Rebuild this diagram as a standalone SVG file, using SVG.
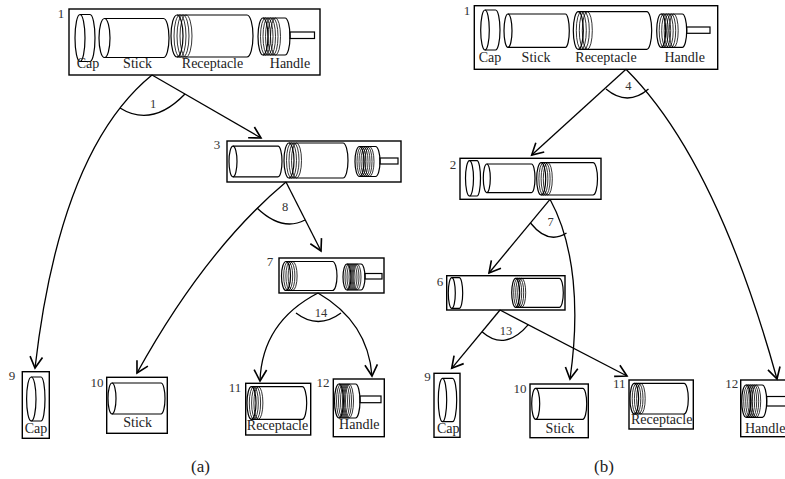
<svg xmlns="http://www.w3.org/2000/svg" width="785" height="479" viewBox="0 0 785 479">
<style>
.box{fill:none;stroke:#000;stroke-width:1.4}
.part ellipse,.part path,.part rect{fill:none;stroke:#000;stroke-width:1.2}
.part .th{stroke-width:0.8}
.edge{fill:none;stroke:#000;stroke-width:1.3}
.lbl{font-family:"Liberation Serif","Times New Roman",serif;font-size:14px;fill:#222;text-anchor:middle}
.num{font-family:"Liberation Serif","Times New Roman",serif;font-size:13px;fill:#333;text-anchor:middle}
.ang{font-family:"Liberation Serif","Times New Roman",serif;font-size:12.5px;fill:#333;text-anchor:middle}
.cap{font-family:"Liberation Serif","Times New Roman",serif;font-size:17px;fill:#222;text-anchor:middle}
</style>
<defs>
<marker id="ah" markerUnits="userSpaceOnUse" markerWidth="20" markerHeight="20" refX="0" refY="0" viewBox="-12 -8 14 16" orient="auto">
<path d="M-9,-5 L0,0 L-9,5" fill="none" stroke="#000" stroke-width="1.3"/>
</marker>
</defs>

<g id="connectors">
<!-- (a) -->
<path class="edge" d="M152,75 L261,138" marker-end="url(#ah)"/>
<path class="edge" d="M152,75 Q60,150 35,368" marker-end="url(#ah)"/>
<path class="edge" d="M120,108 Q152,128 185,94"/>
<path class="edge" d="M286,182 L321,251" marker-end="url(#ah)"/>
<path class="edge" d="M286,182 Q205,250 137,373" marker-end="url(#ah)"/>
<path class="edge" d="M257,208 Q282,232 305,220"/>
<path class="edge" d="M318,293 Q262,322 260,381" marker-end="url(#ah)"/>
<path class="edge" d="M318,293 Q368,322 372,376" marker-end="url(#ah)"/>
<path class="edge" d="M296,313 Q318,330 341,313"/>
<!-- (b) -->
<path class="edge" d="M626,69.3 L531.7,155" marker-end="url(#ah)"/>
<path class="edge" d="M626,69.3 Q716,159 777,379" marker-end="url(#ah)"/>
<path class="edge" d="M606,89 Q627.5,107 648.5,89"/>
<path class="edge" d="M550,199.3 L489,273" marker-end="url(#ah)"/>
<path class="edge" d="M550,199.3 C575,245 580,310 570,379" marker-end="url(#ah)"/>
<path class="edge" d="M530.5,223 Q548,245 566.5,233"/>
<path class="edge" d="M500,310 L451.7,368.3" marker-end="url(#ah)"/>
<path class="edge" d="M500,310 L627,376" marker-end="url(#ah)"/>
<path class="edge" d="M482,331.7 Q505,352 528.3,324.7"/>
</g>

<g id="angle-labels">
<text class="ang" x="153" y="108">1</text>
<text class="ang" x="285" y="211">8</text>
<text class="ang" x="321" y="317">14</text>
<text class="ang" x="628.3" y="89.5">4</text>
<text class="ang" x="550.7" y="226">7</text>
<text class="ang" x="506" y="334.5">13</text>
</g>

<!-- ===== (a) ===== -->
<g id="a-node1">
<rect class="box" x="69" y="9" width="251" height="66"/>
<text class="num" x="61" y="18">1</text>
<g class="part">
<ellipse cx="80" cy="38" rx="5" ry="23.5"/><path d="M80,14.5 H90 A5,23.5 0 0 1 90,61.5 H80"/>
<ellipse cx="104.5" cy="38" rx="5.5" ry="19.5"/><path d="M104.5,18.5 H163.5 A5.5,19.5 0 0 1 163.5,57.5 H104.5"/>
<ellipse cx="177" cy="36" rx="6" ry="21"/><path d="M177,15 H247 A6,21 0 0 1 247,57 H177"/>
<ellipse class="th" cx="180" cy="36" rx="6" ry="21"/><ellipse class="th" cx="183" cy="36" rx="6" ry="21"/><ellipse class="th" cx="186" cy="36" rx="6" ry="21"/>
<ellipse cx="263" cy="36.5" rx="5" ry="18.5"/><path d="M263,18 H285 A5,18.5 0 0 1 285,55 H263"/>
<ellipse class="th" cx="265.5" cy="36.5" rx="5" ry="18.5"/><ellipse class="th" cx="268" cy="36.5" rx="5" ry="18.5"/><ellipse class="th" cx="270.5" cy="36.5" rx="5" ry="18.5"/><ellipse class="th" cx="273" cy="36.5" rx="5" ry="18.5"/><ellipse class="th" cx="275.5" cy="36.5" rx="5" ry="18.5"/>
<rect x="290" y="32" width="24.5" height="6.5"/>
</g>
<text class="lbl" x="88" y="68">Cap</text>
<text class="lbl" x="137.5" y="68">Stick</text>
<text class="lbl" x="212.5" y="68">Receptacle</text>
<text class="lbl" x="290" y="68">Handle</text>
</g>

<g id="a-node3">
<rect class="box" x="227" y="141" width="174" height="41"/>
<text class="num" x="217" y="149">3</text>
<g class="part">
<ellipse cx="233" cy="161.5" rx="4" ry="15.3"/><path d="M233,146.2 H278 A4,15.3 0 0 1 278,176.8 H233"/>
<ellipse cx="289" cy="160.5" rx="5" ry="17.5"/><path d="M289,143 H343 A5,17.5 0 0 1 343,178 H289"/>
<ellipse class="th" cx="291.5" cy="160.5" rx="5" ry="17.5"/><ellipse class="th" cx="294" cy="160.5" rx="5" ry="17.5"/><ellipse class="th" cx="296.5" cy="160.5" rx="5" ry="17.5"/>
<ellipse cx="359.5" cy="161.5" rx="4.5" ry="15"/><path d="M359.5,146.5 H375.5 A4.5,15 0 0 1 375.5,176.5 H359.5"/>
<ellipse class="th" cx="361.5" cy="161.5" rx="4.5" ry="15"/><ellipse class="th" cx="363.5" cy="161.5" rx="4.5" ry="15"/><ellipse class="th" cx="365.5" cy="161.5" rx="4.5" ry="15"/><ellipse class="th" cx="367.5" cy="161.5" rx="4.5" ry="15"/><ellipse class="th" cx="369.5" cy="161.5" rx="4.5" ry="15"/>
<rect x="380" y="158" width="18" height="6"/>
</g>
</g>

<g id="a-node7">
<rect class="box" x="279" y="258" width="105" height="35"/>
<text class="num" x="270" y="266">7</text>
<g class="part">
<ellipse cx="286" cy="276" rx="4.5" ry="14.5"/><path d="M286,261.5 H332.5 A4.5,14.5 0 0 1 332.5,290.5 H286"/>
<ellipse class="th" cx="288.2" cy="276" rx="4.5" ry="14.5"/><ellipse class="th" cx="290.4" cy="276" rx="4.5" ry="14.5"/><ellipse class="th" cx="292.6" cy="276" rx="4.5" ry="14.5"/>
<ellipse cx="347" cy="277" rx="4" ry="13"/><path d="M347,264 H361 A4,13 0 0 1 361,290 H347"/>
<ellipse class="th" cx="349" cy="277" rx="4" ry="13"/><ellipse class="th" cx="351" cy="277" rx="4" ry="13"/><ellipse class="th" cx="353" cy="277" rx="4" ry="13"/><ellipse class="th" cx="355" cy="277" rx="4" ry="13"/><ellipse class="th" cx="357" cy="277" rx="4" ry="13"/>
<rect x="365" y="273.5" width="17" height="5.5"/>
</g>
</g>

<g id="a-node9">
<rect class="box" x="22.3" y="371.7" width="27" height="66.6"/>
<text class="num" x="12" y="380">9</text>
<g class="part">
<ellipse cx="31.3" cy="399" rx="4.7" ry="22"/><path d="M31.3,377 H41 A4,22 0 0 1 41,421 H31.3"/>
</g>
<text class="lbl" x="36" y="433">Cap</text>
</g>

<g id="a-node10">
<rect class="box" x="106.7" y="377.3" width="60.6" height="56"/>
<text class="num" x="97" y="387">10</text>
<g class="part">
<ellipse cx="112" cy="398.5" rx="4" ry="15.5"/><path d="M112,383 H161 A4,15.5 0 0 1 161,414 H112"/>
</g>
<text class="lbl" x="137.7" y="427">Stick</text>
</g>

<g id="a-node11">
<rect class="box" x="245.7" y="383.3" width="65" height="51.7"/>
<text class="num" x="235" y="392">11</text>
<g class="part">
<ellipse cx="251.5" cy="403" rx="4.5" ry="16.3"/><path d="M251.5,386.7 H302.2 A4.5,16.3 0 0 1 302.2,419.3 H251.5"/>
<ellipse class="th" cx="253.8" cy="403" rx="4.5" ry="16.3"/><ellipse class="th" cx="256.1" cy="403" rx="4.5" ry="16.3"/><ellipse class="th" cx="258.4" cy="403" rx="4.5" ry="16.3"/>
</g>
<text class="lbl" x="277.5" y="430">Receptacle</text>
</g>

<g id="a-node12">
<rect class="box" x="333.3" y="379" width="51" height="57.7"/>
<text class="num" x="323" y="387">12</text>
<g class="part">
<ellipse cx="339" cy="401" rx="4.5" ry="17"/><path d="M339,384 H355.5 A4.5,17 0 0 1 355.5,418 H339"/>
<ellipse class="th" cx="341" cy="401" rx="4.5" ry="17"/><ellipse class="th" cx="343" cy="401" rx="4.5" ry="17"/><ellipse class="th" cx="345" cy="401" rx="4.5" ry="17"/><ellipse class="th" cx="347" cy="401" rx="4.5" ry="17"/><ellipse class="th" cx="349" cy="401" rx="4.5" ry="17"/>
<rect x="360" y="396" width="21" height="6.7"/>
</g>
<text class="lbl" x="359.3" y="429.3">Handle</text>
</g>

<!-- ===== (b) ===== -->
<g id="b-node1">
<rect class="box" x="474.3" y="5.7" width="243.4" height="63.6"/>
<text class="num" x="467" y="15">1</text>
<g class="part">
<ellipse cx="485" cy="30" rx="4.3" ry="20"/><path d="M485,10 H495.5 A4.5,20 0 0 1 495.5,50 H485"/>
<ellipse cx="508" cy="30.7" rx="4" ry="16.7"/><path d="M508,14 H565.3 A4,16.7 0 0 1 565.3,47.4 H508"/>
<ellipse cx="578.3" cy="30.5" rx="5" ry="18.8"/><path d="M578.3,11.7 H646.7 A5,18.8 0 0 1 646.7,49.3 H578.3"/>
<ellipse class="th" cx="581.3" cy="30.5" rx="5" ry="18.8"/><ellipse class="th" cx="584.3" cy="30.5" rx="5" ry="18.8"/><ellipse class="th" cx="587.3" cy="30.5" rx="5" ry="18.8"/>
<ellipse cx="661.2" cy="30.7" rx="4.5" ry="16.7"/><path d="M661.2,14 H682.2 A4.5,16.7 0 0 1 682.2,47.4 H661.2"/>
<ellipse class="th" cx="663.7" cy="30.7" rx="4.5" ry="16.7"/><ellipse class="th" cx="666.2" cy="30.7" rx="4.5" ry="16.7"/><ellipse class="th" cx="668.7" cy="30.7" rx="4.5" ry="16.7"/><ellipse class="th" cx="671.2" cy="30.7" rx="4.5" ry="16.7"/><ellipse class="th" cx="673.7" cy="30.7" rx="4.5" ry="16.7"/>
<rect x="686.7" y="27" width="23.3" height="6.3"/>
</g>
<text class="lbl" x="490" y="61.7">Cap</text>
<text class="lbl" x="536" y="61.7">Stick</text>
<text class="lbl" x="606" y="61.7">Receptacle</text>
<text class="lbl" x="684.7" y="61.7">Handle</text>
</g>

<g id="b-node2">
<rect class="box" x="460" y="158.3" width="141" height="41"/>
<text class="num" x="453" y="169">2</text>
<g class="part">
<ellipse cx="469.5" cy="178.3" rx="4" ry="17.7"/><path d="M469.5,160.6 H477 A3.5,17.7 0 0 1 477,196 H469.5"/>
<ellipse cx="486.8" cy="178.3" rx="3.5" ry="14.3"/><path d="M486.8,164 H531.5 A3.5,14.3 0 0 1 531.5,192.6 H486.8"/>
<ellipse cx="541.2" cy="178.8" rx="4.5" ry="16.2"/><path d="M541.2,162.6 H593 A4.5,16.2 0 0 1 593,195 H541.2"/>
<ellipse class="th" cx="543.4" cy="178.8" rx="4.5" ry="16.2"/><ellipse class="th" cx="545.6" cy="178.8" rx="4.5" ry="16.2"/><ellipse class="th" cx="547.8" cy="178.8" rx="4.5" ry="16.2"/>
</g>
</g>

<g id="b-node6">
<rect class="box" x="446.7" y="275.7" width="118.3" height="34.3"/>
<text class="num" x="440" y="286">6</text>
<g class="part">
<ellipse cx="451.8" cy="293" rx="3.5" ry="15.3"/><path d="M451.8,277.7 H459.2 A3.5,15.3 0 0 1 459.2,308.3 H451.8"/>
<ellipse cx="515.7" cy="292.8" rx="4" ry="14.5"/><path d="M515.7,278.3 H559.3 A4,14.5 0 0 1 559.3,307.3 H515.7"/>
<ellipse class="th" cx="517.7" cy="292.8" rx="4" ry="14.5"/><ellipse class="th" cx="519.7" cy="292.8" rx="4" ry="14.5"/><ellipse class="th" cx="521.7" cy="292.8" rx="4" ry="14.5"/>
</g>
</g>

<g id="b-node9">
<rect class="box" x="434" y="373.3" width="26" height="64"/>
<text class="num" x="427.5" y="381">9</text>
<g class="part">
<ellipse cx="442.5" cy="400" rx="4.2" ry="21.7"/><path d="M442.5,378.3 H452.5 A4.2,21.7 0 0 1 452.5,421.7 H442.5"/>
</g>
<text class="lbl" x="448.3" y="433.3">Cap</text>
</g>

<g id="b-node10">
<rect class="box" x="530" y="384" width="58.3" height="53.7"/>
<text class="num" x="520" y="393">10</text>
<g class="part">
<ellipse cx="535.7" cy="403.8" rx="4" ry="15.5"/><path d="M535.7,388.3 H582.7 A4,15.5 0 0 1 582.7,419.3 H535.7"/>
</g>
<text class="lbl" x="560" y="432.7">Stick</text>
</g>

<g id="b-node11">
<rect class="box" x="629" y="380" width="64.3" height="49"/>
<text class="num" x="619.3" y="388">11</text>
<g class="part">
<ellipse cx="634.3" cy="398.7" rx="4.3" ry="15.3"/><path d="M634.3,383.4 H684 A4.3,15.3 0 0 1 684,414 H634.3"/>
<ellipse class="th" cx="636.5" cy="398.7" rx="4.3" ry="15.3"/><ellipse class="th" cx="638.7" cy="398.7" rx="4.3" ry="15.3"/><ellipse class="th" cx="640.9" cy="398.7" rx="4.3" ry="15.3"/>
</g>
<text class="lbl" x="661.7" y="424.3">Receptacle</text>
</g>

<g id="b-node12">
<rect class="box" x="740.7" y="380" width="50" height="56.7"/>
<text class="num" x="731.7" y="388">12</text>
<g class="part">
<ellipse cx="746.2" cy="401.2" rx="4.5" ry="16.2"/><path d="M746.2,385 H762.2 A4.5,16.2 0 0 1 762.2,417.4 H746.2"/>
<ellipse class="th" cx="748.2" cy="401.2" rx="4.5" ry="16.2"/><ellipse class="th" cx="750.2" cy="401.2" rx="4.5" ry="16.2"/><ellipse class="th" cx="752.2" cy="401.2" rx="4.5" ry="16.2"/><ellipse class="th" cx="754.2" cy="401.2" rx="4.5" ry="16.2"/><ellipse class="th" cx="756.2" cy="401.2" rx="4.5" ry="16.2"/>
<rect x="766.7" y="396.5" width="25" height="9.5"/>
</g>
<text class="lbl" x="745" y="432.7" style="text-anchor:start">Handle</text>
</g>

<g id="subcaptions">
<text class="cap" x="200.5" y="472">(a)</text>
<text class="cap" x="604" y="472">(b)</text>
</g>
</svg>
